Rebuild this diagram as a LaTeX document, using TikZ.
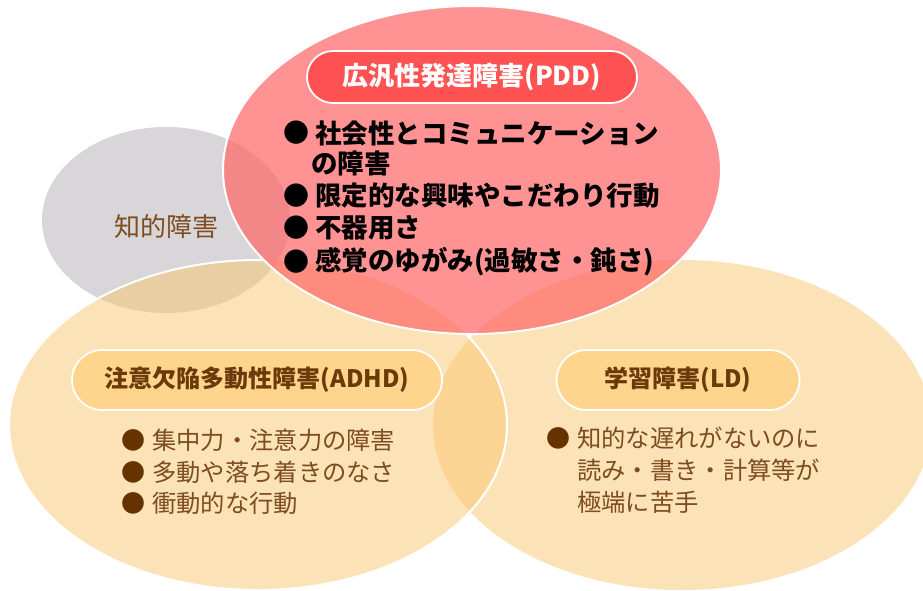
\documentclass[tikz,border=0pt]{standalone}
\usepackage{fontspec}
\setmainfont{Noto Sans CJK JP}
\definecolor{graycol}{HTML}{D8D6D8}
\definecolor{orbase}{RGB}{251,199,113}
\definecolor{pddbase}{RGB}{255,104,104}
\definecolor{pddlab}{HTML}{FF5353}
\definecolor{orlab}{HTML}{FFD58E}
\definecolor{darkbrown}{HTML}{6B3A0A}
\definecolor{itembrown}{HTML}{7D4C1F}
\definecolor{bulbrown}{HTML}{663300}
\begin{document}
\begin{tikzpicture}[x=1pt,y=-1pt,
  pill/.style={draw=white, line width=1.8pt, rounded corners=#1, inner sep=0pt},
  pddtitle/.style={font=\bfseries\fontsize{26pt}{30pt}\selectfont, text=white},
  ortitle/.style={font=\bfseries\fontsize{24pt}{28pt}\selectfont, text=darkbrown},
  pdditem/.style={font=\bfseries\fontsize{26.5pt}{30pt}\selectfont, text=black, anchor=west, inner sep=0pt},
  pddbul/.style={font=\fontsize{26pt}{30pt}\selectfont, text=black, inner sep=0pt},
  oritem/.style={font=\fontsize{24.3pt}{28pt}\selectfont, text=itembrown, anchor=west, inner sep=0pt},
  orbul/.style={font=\fontsize{24pt}{28pt}\selectfont, text=bulbrown, inner sep=0pt},
  bigell/.style={x radius=249pt, y radius=165pt}
]
\useasboundingbox (0,0) rectangle (923,590);
\fill[white] (0,0) rectangle (923,590);

% gray ellipse
\path[fill=graycol] (166,220) ellipse [x radius=124pt, y radius=93pt];
% LD ellipse
\path[fill=orbase, fill opacity=0.5] (682,425) ellipse [bigell];
% ADHD ellipse
\path[fill=orbase, fill opacity=0.5] (258,425) ellipse [bigell];
\begin{scope}[even odd rule]
  \clip (-10,-10) rectangle (933,600) (472,170) ellipse [x radius=249pt, y radius=164pt];
  \draw[white, line width=2pt] (258,425) ellipse [bigell];
\end{scope}
% PDD ellipse
\path[fill=pddbase, fill opacity=0.71, draw=white, line width=2pt] (472,170) ellipse [x radius=249pt, y radius=164pt];

% intellectual disability
\node[font=\fontsize{26pt}{30pt}\selectfont, text=itembrown] (id) at (166,227) {知的障害};

% PDD
\node[pill=26pt, fill=pddlab, minimum width=330pt, minimum height=52pt, pddtitle] (pddt) at (472,77) {広汎性発達障害(PDD)};
\node[pddbul] (pb1) at (296,133) {●};
\node[pdditem] (p1) at (315,133) {社会性とコミュニケーション};
\node[pdditem] (p1b) at (311,163) {の障害};
\node[pddbul] (pb2) at (296,196) {●};
\node[pdditem] (p2) at (315,196) {限定的な興味やこだわり行動};
\node[pddbul] (pb3) at (296,228) {●};
\node[pdditem] (p3) at (315,228) {不器用さ};
\node[pddbul] (pb4) at (296,262) {●};
\node[pdditem] (p4) at (315,262) {感覚のゆがみ(過敏さ・鈍さ)};

% ADHD
\node[pill=30pt, fill=orlab, minimum width=370pt, minimum height=60pt, ortitle] (adt) at (257,380) {注意欠陥多動性障害(ADHD)};
\node[orbul] (ab1) at (133,440) {●};
\node[oritem] (a1) at (152,440) {集中力・注意力の障害};
\node[orbul] (ab2) at (133,472) {●};
\node[oritem] (a2) at (152,472) {多動や落ち着きのなさ};
\node[orbul] (ab3) at (133,503) {●};
\node[oritem] (a3) at (152,503) {衝動的な行動};

% LD
\node[pill=30pt, fill=orlab, minimum width=243pt, minimum height=60pt, ortitle] (ldt) at (678,380) {学習障害(LD)};
\node[orbul] (lb1) at (558,438) {●};
\node[oritem] (l1) at (577,438) {知的な遅れがないのに};
\node[oritem] (l2) at (577,470) {読み・書き・計算等が};
\node[oritem] (l3) at (577,502) {極端に苦手};
\end{tikzpicture}
\end{document}
